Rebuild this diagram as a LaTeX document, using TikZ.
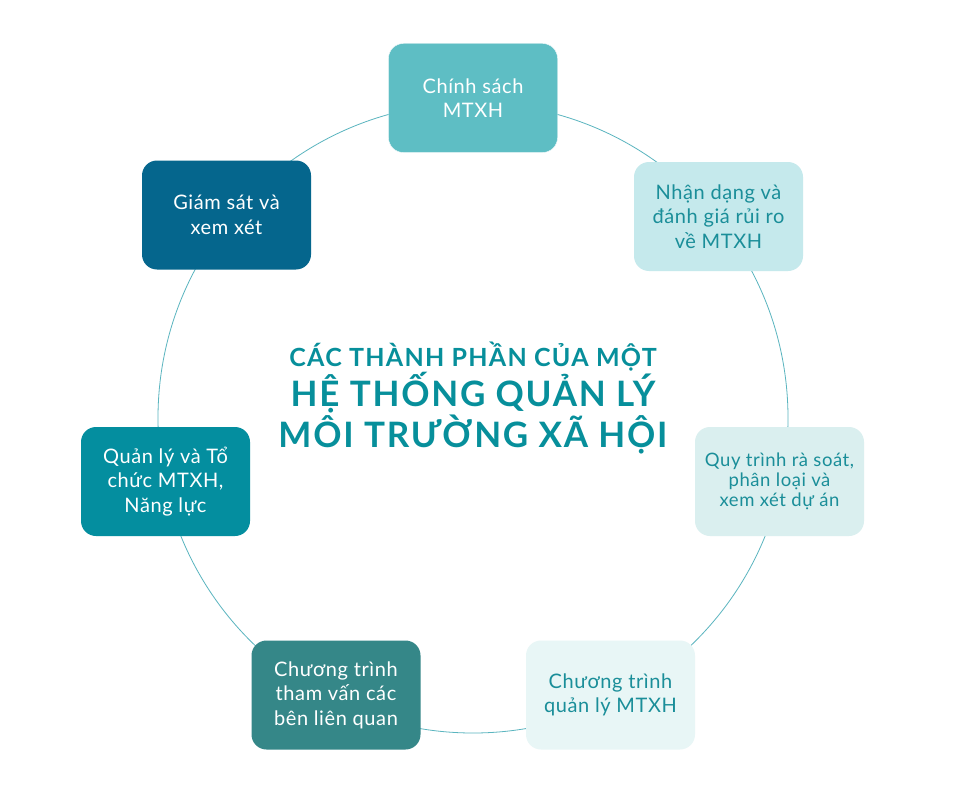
\documentclass[tikz,border=0pt]{standalone}
\usepackage{fontspec}
\setmainfont{Lato}
\newfontfamily\boxfont{Lato}[LetterSpace=3]
\newfontfamily\titlefont{Lato Bold}[LetterSpace=5]
\definecolor{cTop}{HTML}{5EBEC4}
\definecolor{cTR}{HTML}{C5E9EC}
\definecolor{cR}{HTML}{DAEFEF}
\definecolor{cBR}{HTML}{E8F6F6}
\definecolor{cBL}{HTML}{358788}
\definecolor{cL}{HTML}{048E9F}
\definecolor{cTL}{HTML}{05668D}
\definecolor{cTxt}{HTML}{1A8E99}
\definecolor{cRing}{HTML}{5AB5BF}
\definecolor{cTitle}{HTML}{078F9B}
\begin{document}
\begin{tikzpicture}[x=1pt,y=-1pt,
  box/.style={rounded corners=15pt, minimum width=169pt, minimum height=109pt, inner sep=0pt, align=center, font=\boxfont\fontsize{20}{24.5}\selectfont},
  darkbox/.style={box, text=white},
  lightbox/.style={box, text=cTxt}]
\useasboundingbox (0,0) rectangle (961,797);
\fill[white] (0,0) rectangle (961,797);
\draw[cRing, line width=0.8pt] (473,418) circle (315);
\node[darkbox, fill=cTop, draw=white!90!cTop] (top) at (473,98) {Chính sách\\MTXH};
\node[lightbox, fill=cTR] (tr) at (718.5,216.5) {Nhận dạng và\\đánh giá rủi ro\\về MTXH};
\node[lightbox, fill=cR, font=\boxfont\fontsize{18.5}{20}\selectfont] (r) at (779.5,481.5) {Quy trình rà soát,\\phân loại và\\xem xét dự án};
\node[lightbox, fill=cBR] (br) at (610.5,695) {Chương trình\\quản lý MTXH};
\node[darkbox, fill=cBL] (bl) at (336,695) {Chương trình\\tham vấn các\\bên liên quan};
\node[darkbox, fill=cL] (l) at (165.5,481.5) {Quản lý và Tổ\\chức MTXH,\\Năng lực};
\node[darkbox, fill=cTL] (tl) at (226.5,215) {Giám sát và\\xem xét};
\node[text=cTitle, align=center, inner sep=0pt] (title) at (473,398) {%
  {\titlefont\fontsize{25}{42}\selectfont CÁC THÀNH PHẦN CỦA MỘT}\\
  {\titlefont\fontsize{35}{43}\selectfont HỆ THỐNG QUẢN LÝ}\\
  {\titlefont\fontsize{35}{43}\selectfont MÔI TRƯỜNG XÃ HỘI}};
\end{tikzpicture}
\end{document}
